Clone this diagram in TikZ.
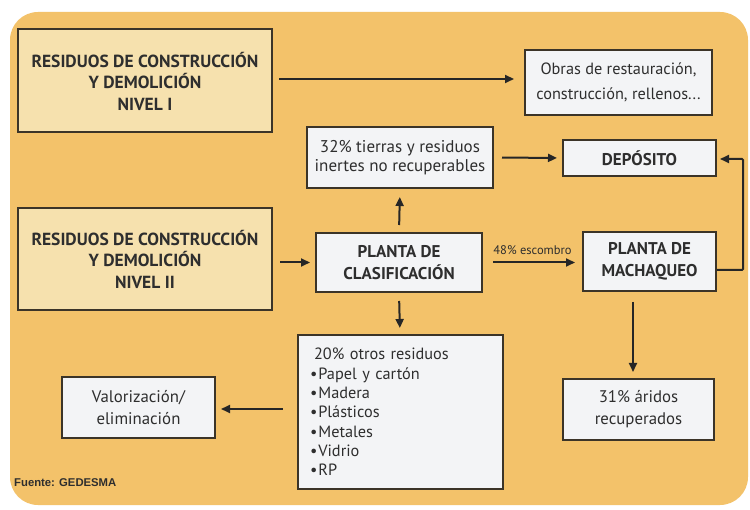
\documentclass[tikz,border=0pt]{standalone}
\usepackage{fontspec}
\setmainfont{PT Sans}
\newfontfamily\srcfont{Liberation Sans}
\usetikzlibrary{arrows.meta}
\definecolor{bgorange}{HTML}{F3C26A}
\definecolor{beige}{HTML}{F6E1AE}
\definecolor{boxwhite}{HTML}{F3F4F6}
\definecolor{edge}{HTML}{3B3428}
\definecolor{ink}{HTML}{2E2E2E}
\tikzset{
  base/.style={draw=edge, line width=2pt, rectangle, inner sep=0pt, align=center, text=ink},
  levelbox/.style={base, fill=beige, font=\bfseries\fontsize{17.5}{21.5}\selectfont},
  whitebox/.style={base, fill=boxwhite, font=\fontsize{16.8}{22}\selectfont},
  boldbox/.style={base, fill=boxwhite, font=\bfseries\fontsize{17}{22.5}\selectfont},
  flow/.style={draw=black!85, line width=2pt, -{Triangle[length=9pt,width=8pt]}},
}
\begin{document}
\begin{tikzpicture}[x=1pt,y=-1pt]
\useasboundingbox (0,0) rectangle (750,510);
\fill[white] (0,0) rectangle (750,510);
\fill[bgorange, rounded corners=28pt] (10,12) rectangle (748,505);

\node[levelbox, minimum width=254pt, minimum height=103pt] (n1) at (145,81)
  {RESIDUOS DE CONSTRUCCIÓN\\Y DEMOLICIÓN\\NIVEL I};
\node[levelbox, minimum width=254pt, minimum height=102pt] (n2) at (145,259)
  {RESIDUOS DE CONSTRUCCIÓN\\Y DEMOLICIÓN\\NIVEL II};
\node[whitebox, minimum width=187pt, minimum height=65pt, font=\fontsize{16.3}{25}\selectfont] (obras) at (618.5,82.5)
  {Obras de restauración,\\construcción, rellenos...};
\node[whitebox, minimum width=186pt, minimum height=61pt, font=\fontsize{17}{19.5}\selectfont] (tierras) at (400,157.5)
  {32\% tierras y residuos\\inertes no recuperables};
\node[boldbox, minimum width=153pt, minimum height=36pt] (deposito) at (639.5,158)
  {DEPÓSITO};
\node[boldbox, minimum width=166pt, minimum height=59pt] (clasif) at (399,262.5)
  {PLANTA DE\\CLASIFICACIÓN};
\node[boldbox, minimum width=133pt, minimum height=59pt] (machaq) at (649.5,261.5)
  {PLANTA DE\\MACHAQUEO};
\node[whitebox, minimum width=205pt, minimum height=154pt, text width=180pt, align=left,
  font=\fontsize{16.3}{19.3}\selectfont] (otros) at (400,412)
  {\hspace*{4pt}20\% otros residuos\\•\kern1pt Papel y cartón\\•\kern1pt Madera\\•\kern1pt Plásticos\\•\kern1pt Metales\\•\kern1pt Vidrio\\•\kern1pt RP};
\node[whitebox, minimum width=153pt, minimum height=61pt] (valor) at (138.5,407.5)
  {Valorización/\\eliminación};
\node[whitebox, minimum width=151pt, minimum height=61pt] (aridos) at (638.5,409.5)
  {31\% áridos\\recuperados};
\node[text=ink, font=\srcfont\bfseries\fontsize{11.3}{12}\selectfont, anchor=west, inner sep=0pt] (fuente) at (14,483)
  {Fuente: GEDESMA};

\draw[flow, shorten <=6pt, shorten >=10pt] (n1.east |- 0,79) -- (obras.west |- 0,79);
\draw[flow, shorten <=8pt, shorten >=5pt] (tierras.east) -- (deposito.west);
\draw[flow, shorten <=7pt, shorten >=8pt] (clasif.north) -- (tierras.south);
\draw[flow, shorten <=7pt, shorten >=5pt] (n2.east |- clasif.west) -- (clasif.west);
\draw[flow, shorten <=10pt, shorten >=7pt] (clasif.east) -- node[above=4pt, font=\fontsize{12.5}{13}\selectfont, text=ink] (lbl) {48\% escombro} (machaq.west |- clasif.east);
\draw[flow, shorten <=8pt, shorten >=6pt] (clasif.south) -- (otros.north);
\draw[flow, shorten <=10pt, shorten >=6pt] (machaq.south -| 633,0) -- (aridos.north -| 633,0);
\draw[flow, shorten <=14pt, shorten >=5pt] (otros.west |- 0,409) -- (valor.east |- 0,409);
\coordinate (rb) at (743,270);
\coordinate (rt) at (743,159);
\draw[flow, rounded corners=1pt, shorten >=3pt] (machaq.east |- rb) -- (rb) -- (rt) -- (deposito.east |- rt);
\end{tikzpicture}
\end{document}
